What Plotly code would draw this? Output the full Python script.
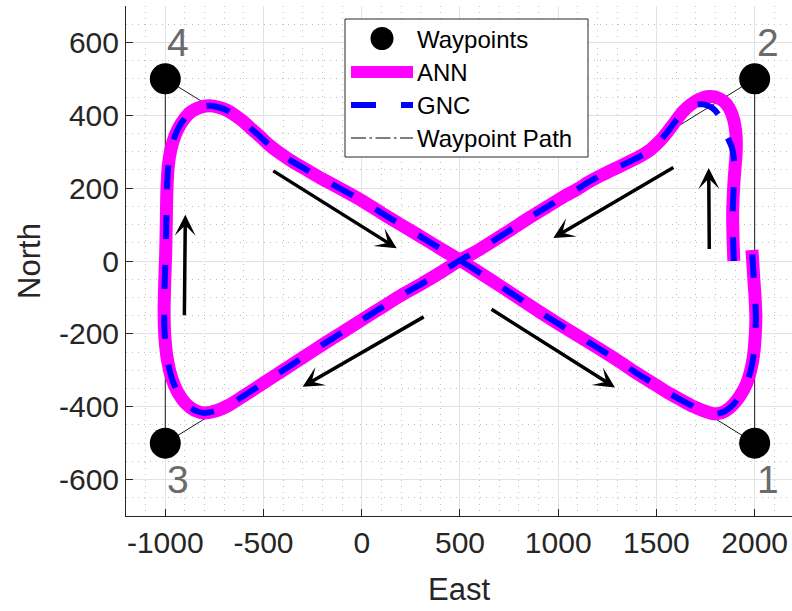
import plotly.graph_objects as go

# ---------------- data ----------------
wp_east = [2000, 2000, -1000, -1000]
wp_north = [-500, 500, -500, 500]
wp_labels = ["1", "2", "3", "4"]

# waypoint path order 1 -> 2 -> 3 -> 4 -> 1
path_order = [0, 1, 2, 3, 0]

ann_east = [1894, 1890, 1888, 1895, 1906, 1905, 1893, 1870, 1838, 1800, 1756, 1715,
            1671, 1635, 1603, 1560, 1518, 1470, 1416, 1360, 1314, 1260, 1200, 1150,
            1100, 1026, 941, 856, 771, 686, 601, 500, 400, 300, 195, 100, 0, -100,
            -200, -300, -400, -500, -600, -680, -740, -800, -850, -895, -935, -965,
            -988, -1002, -1006, -1003, -998, -995, -992, -985, -972, -950, -920, -885,
            -850, -810, -772, -730, -687, -645, -603, -560, -518, -470, -416, -350,
            -280, -200, -100, 0, 100, 195, 300, 400, 500, 600, 700, 805, 900, 1000,
            1100, 1200, 1300, 1400, 1501, 1570, 1637, 1690, 1738, 1780, 1810, 1850,
            1891, 1928, 1959, 1980, 1994, 2003, 2006, 2002, 1995, 1990, 1986]
ann_north = [0, 60, 130, 220, 300, 345, 388, 420, 440, 450, 451, 443,
             428, 410, 388, 357, 330, 306, 287, 272, 260, 246, 230, 215,
             198, 176, 148, 120, 90, 61, 32, 2, -32, -64, -96, -128, -162, -196,
             -230, -265, -300, -335, -370, -397, -411, -417, -410, -392, -362, -325,
             -275, -210, -140, -60, 20, 100, 190, 260, 305, 345, 377, 402,
             416, 424, 426, 422, 414, 400, 383, 362, 342, 318, 296, 272,
             250, 225, 196, 166, 132, 101, 67, 34, 2, -32, -67, -104, -138, -172,
             -205, -238, -272, -308, -342, -365, -385, -400, -411, -418, -419, -412,
             -394, -368, -336, -300, -260, -205, -155, -100, -45, 0, 30]

gnc_east = [1894, 1890, 1888, 1893, 1898, 1885, 1857, 1835, 1815, 1785, 1740, 1711,
            1671, 1635, 1603, 1560, 1518, 1470, 1416, 1360, 1314, 1260, 1200, 1150,
            1100, 1026, 941, 856, 771, 686, 601, 500, 400, 300, 195, 100, 0, -100,
            -200, -300, -400, -500, -600, -680, -740, -800, -850, -895, -935, -965,
            -988, -1002, -1006, -1003, -998, -995, -992, -985, -972, -950, -920, -885,
            -850, -810, -772, -730, -687, -645, -603, -560, -518, -470, -416, -350,
            -280, -200, -100, 0, 100, 195, 300, 400, 500, 600, 700, 805, 900, 1000,
            1100, 1200, 1300, 1400, 1501, 1570, 1637, 1690, 1738, 1780, 1810, 1850,
            1891, 1928, 1959, 1980, 1994, 2003, 2006, 2002, 1995, 1990, 1986]
gnc_north = [0, 60, 130, 200, 260, 310, 345, 375, 402, 420, 430, 430,
             424, 407, 388, 357, 330, 306, 287, 272, 260, 246, 230, 215,
             198, 176, 148, 120, 90, 61, 32, 2, -32, -64, -96, -128, -162, -196,
             -230, -265, -300, -335, -370, -397, -411, -417, -410, -392, -362, -325,
             -275, -210, -140, -60, 20, 100, 190, 260, 305, 345, 377, 402,
             416, 424, 426, 422, 414, 400, 383, 362, 342, 318, 296, 272,
             250, 225, 196, 166, 132, 101, 67, 34, 2, -32, -67, -104, -138, -172,
             -205, -238, -272, -308, -342, -365, -385, -400, -411, -418, -419, -412,
             -394, -368, -336, -300, -260, -205, -155, -100, -45, 0, 30]

# direction arrows (tail -> tip)
arrow_tail_east = [-903, -458, 323, 1594, 653, 1769]
arrow_tail_north = [-153, 250, -151, 259, -130, 29]
arrow_tip_east = [-898, 178, -301, 975, 1289, 1766]
arrow_tip_north = [127, 35, -345, 63, -347, 255]

x_tick_vals = [-1000, -500, 0, 500, 1000, 1500, 2000]
x_tick_text = ["-1000", "-500", "0", "500", "1000", "1500", "2000"]
y_tick_vals = [-600, -400, -200, 0, 200, 400, 600]
y_tick_text = ["-600", "-400", "-200", "0", "200", "400", "600"]

legend_labels = ["Waypoints", "ANN", "GNC", "Waypoint Path"]

# ---------------- styling ----------------
W, H = 792, 611
ML, MR, MT, MB = 126, 0, 6, 95
PW = W - ML - MR
PH = H - MT - MB
FONT = "Liberation Sans, Arial, Helvetica, sans-serif"
AX_COLOR = "#262626"
ANN_COLOR = "#ff00ff"
GNC_COLOR = "#0000ff"


def px_x(p):
    return (p - ML) / PW


def px_y(p):
    return (H - MB - p) / PH


fig = go.Figure()

# waypoint path
fig.add_trace(go.Scatter(
    x=[wp_east[i] for i in path_order], y=[wp_north[i] for i in path_order],
    mode="lines", line=dict(color="#1a1a1a", width=1), showlegend=False,
    name=legend_labels[3], hoverinfo="skip"))

# ANN
fig.add_trace(go.Scatter(
    x=ann_east, y=ann_north, mode="lines",
    line=dict(color=ANN_COLOR, width=13, shape="spline", smoothing=0.7),
    name=legend_labels[1], showlegend=False))

# GNC
fig.add_trace(go.Scatter(
    x=gnc_east, y=gnc_north, mode="lines",
    line=dict(color=GNC_COLOR, width=6, dash="24px,26px", shape="spline", smoothing=0.7),
    name=legend_labels[2], showlegend=False))

# waypoints
fig.add_trace(go.Scatter(
    x=wp_east, y=wp_north, mode="markers",
    marker=dict(color="black", size=31, line=dict(width=0)),
    name=legend_labels[0], showlegend=False))

annotations = []
# waypoint labels
for e, n, t in zip(wp_east, wp_north, wp_labels):
    annotations.append(dict(
        x=e, y=600 if n > 0 else -600, xref="x", yref="y", text=t, showarrow=False,
        xanchor="left", yanchor="middle", font=dict(size=39, color="#6b6b6b", family=FONT)))

# arrows
for te, tn, he, hn in zip(arrow_tail_east, arrow_tail_north, arrow_tip_east, arrow_tip_north):
    annotations.append(dict(
        x=he, y=hn, ax=te, ay=tn, xref="x", yref="y", axref="x", ayref="y",
        text="", showarrow=True, arrowhead=3, arrowsize=1.0, arrowwidth=3.5,
        arrowcolor="black", standoff=0, startstandoff=0))

# legend (drawn)
shapes = []
shapes.append(dict(type="rect", xref="paper", yref="paper",
                   x0=px_x(345), x1=px_x(588), y0=px_y(157), y1=px_y(19),
                   fillcolor="white", line=dict(color=AX_COLOR, width=1), layer="above"))
item_y = [38.5, 72, 105, 138]
sym_x0, sym_x1 = 351, 413
shapes.append(dict(type="circle", xref="paper", yref="paper", xsizemode="pixel", ysizemode="pixel",
                   xanchor=px_x(382), yanchor=px_y(item_y[0]), x0=-11.5, x1=11.5, y0=-11.5, y1=11.5,
                   fillcolor="black", line=dict(width=0), layer="above"))
shapes.append(dict(type="line", xref="paper", yref="paper",
                   x0=px_x(sym_x0), x1=px_x(sym_x1), y0=px_y(item_y[1]), y1=px_y(item_y[1]),
                   line=dict(color=ANN_COLOR, width=12), layer="above"))
shapes.append(dict(type="line", xref="paper", yref="paper",
                   x0=px_x(sym_x0), x1=px_x(sym_x1), y0=px_y(item_y[2]), y1=px_y(item_y[2]),
                   line=dict(color=GNC_COLOR, width=6, dash="25px,25px"), layer="above"))
shapes.append(dict(type="line", xref="paper", yref="paper",
                   x0=px_x(sym_x0), x1=px_x(sym_x1), y0=px_y(item_y[3]), y1=px_y(item_y[3]),
                   line=dict(color="black", width=1, dash="15px,3.5px,2.5px,3.5px"), layer="above"))
for lbl, yy in zip(legend_labels, item_y):
    annotations.append(dict(x=px_x(415), y=px_y(yy + 1), xref="paper", yref="paper", text=lbl,
                            showarrow=False, xanchor="left", yanchor="middle",
                            font=dict(size=24, color="black", family=FONT)))

axis_common = dict(
    showgrid=True, gridcolor="#e2e2e2", gridwidth=1,
    zeroline=False, showline=True, linecolor=AX_COLOR, linewidth=1,
    ticks="inside", ticklen=7, tickwidth=1, tickcolor=AX_COLOR,
    tickfont=dict(size=30, color=AX_COLOR, family=FONT),
    mirror=False,
)

fig.update_layout(
    width=W, height=H,
    margin=dict(l=ML, r=MR, t=MT, b=MB, autoexpand=False),
    paper_bgcolor="white", plot_bgcolor="white",
    showlegend=False,
    xaxis=dict(range=[-1200, 2190], tickmode="array", tickvals=x_tick_vals, ticktext=x_tick_text,
               minor=dict(dtick=100, tick0=0, showgrid=True, gridcolor="#c0c0c0", griddash="1px,5px", ticks=""),
               title=dict(text="East", font=dict(size=31, color=AX_COLOR, family=FONT), standoff=20),
               **axis_common),
    yaxis=dict(range=[-700, 700], tickmode="array", tickvals=y_tick_vals, ticktext=y_tick_text,
               minor=dict(dtick=50, tick0=0, showgrid=True, gridcolor="#c0c0c0", griddash="1px,5px", ticks=""),
               title=dict(text="North", font=dict(size=31, color=AX_COLOR, family=FONT), standoff=9),
               **axis_common),
    annotations=annotations,
    shapes=shapes,
)

fig.write_html("out.html")
